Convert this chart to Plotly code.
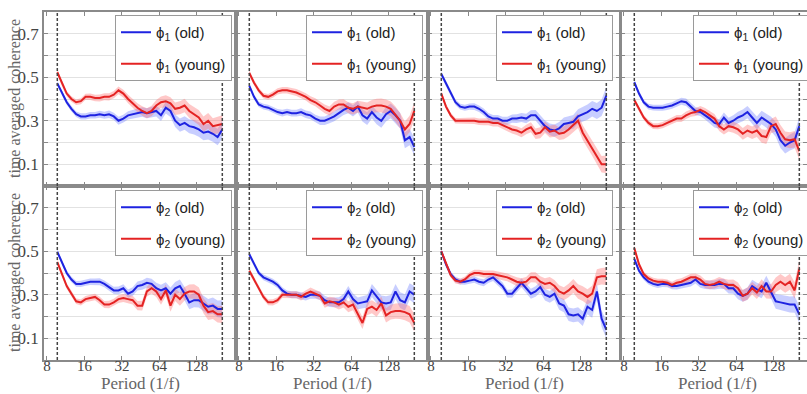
import math
import plotly.graph_objects as go
from plotly.subplots import make_subplots

# ---------------- data ----------------
PERIODS = [9.68, 10.56, 11.52, 12.57, 13.72, 14.96, 16.32, 17.81, 19.44, 21.2,
           23.1, 25.2, 27.5, 30.0, 32.8, 35.8, 39.0, 42.6, 46.5, 50.7,
           55.3, 60.3, 65.8, 71.9, 78.4, 85.5, 93.3, 101.8, 111.0, 121.2,
           132.2, 144.3, 157.4, 171.7, 187.4, 204.4]

ERR = [0.012, 0.012, 0.012, 0.013, 0.013, 0.014, 0.014, 0.015, 0.015, 0.016,
       0.016, 0.017, 0.017, 0.018, 0.018, 0.019, 0.020, 0.021, 0.022, 0.023,
       0.024, 0.025, 0.026, 0.027, 0.028, 0.029, 0.030, 0.031, 0.032, 0.033,
       0.034, 0.035, 0.036, 0.037, 0.038, 0.040]

PHI1_OLD_A = [.472, .43, .385, .355, .33, .32, .32, .325, .325, .33, .325, .33, .32, .30, .31, .325, .33, .335,
              .34, .335, .34, .345, .325, .36, .345, .30, .28, .29, .275, .27, .26, .245, .25, .24, .225, .26]
PHI1_YOUNG_A = [.523, .47, .425, .40, .385, .39, .41, .41, .405, .405, .41, .41, .42, .44, .425, .40, .38, .36,
                .345, .335, .345, .37, .385, .39, .38, .355, .36, .37, .345, .33, .315, .285, .30, .275, .28, .285]
PHI1_OLD_B = [.46, .41, .375, .365, .36, .35, .34, .335, .34, .335, .335, .34, .33, .325, .31, .30, .30, .31,
              .32, .335, .35, .36, .345, .365, .325, .31, .34, .315, .30, .33, .345, .325, .30, .21, .225, .18]
PHI1_YOUNG_B = [.52, .475, .44, .415, .41, .42, .435, .44, .44, .435, .43, .42, .41, .395, .385, .37, .355, .345,
                .365, .375, .375, .36, .355, .365, .36, .355, .365, .37, .37, .365, .355, .33, .30, .26, .285, .345]
PHI1_OLD_C = [.515, .47, .425, .385, .365, .36, .365, .365, .355, .34, .32, .31, .31, .30, .30, .31, .31, .315,
              .31, .325, .325, .30, .275, .26, .255, .265, .285, .29, .295, .32, .33, .34, .355, .345, .36, .415]
PHI1_YOUNG_C = [.425, .365, .325, .30, .30, .30, .30, .30, .295, .295, .295, .29, .29, .28, .27, .26, .255, .245,
                .26, .27, .24, .245, .27, .25, .255, .24, .245, .26, .28, .30, .245, .21, .175, .14, .10, .10]
PHI1_OLD_D = [.477, .425, .385, .365, .36, .36, .36, .365, .37, .38, .39, .385, .365, .345, .34, .325, .31, .29,
              .285, .315, .29, .30, .315, .325, .34, .315, .29, .315, .30, .285, .26, .21, .185, .20, .21, .275]
PHI1_YOUNG_D = [.395, .355, .315, .29, .275, .275, .28, .29, .30, .31, .31, .325, .335, .34, .35, .34, .325, .31,
                .275, .26, .275, .27, .26, .24, .255, .245, .255, .23, .225, .275, .285, .245, .215, .21, .215, .16]

PHI2_OLD_A = [.497, .45, .40, .37, .35, .35, .355, .36, .36, .36, .35, .335, .32, .32, .33, .305, .315, .34,
              .345, .355, .35, .33, .32, .33, .305, .33, .34, .305, .265, .275, .275, .26, .245, .25, .235, .235]
PHI2_YOUNG_A = [.45, .395, .34, .305, .27, .265, .28, .285, .29, .275, .255, .255, .265, .28, .285, .28, .275, .25,
                .25, .315, .33, .315, .28, .32, .25, .30, .28, .305, .315, .315, .30, .25, .22, .225, .21, .21]
PHI2_OLD_B = [.486, .44, .40, .38, .37, .36, .345, .32, .305, .30, .30, .295, .29, .30, .30, .295, .275, .265,
              .265, .265, .28, .315, .28, .26, .265, .27, .32, .29, .265, .26, .265, .315, .275, .265, .315, .30]
PHI2_YOUNG_B = [.41, .37, .33, .29, .265, .265, .275, .30, .30, .30, .30, .29, .305, .315, .305, .295, .26, .27,
                .265, .255, .265, .245, .255, .21, .17, .235, .245, .23, .26, .205, .22, .225, .225, .22, .21, .17]
PHI2_OLD_C = [.50, .44, .395, .37, .36, .36, .365, .37, .36, .355, .37, .38, .36, .34, .305, .305, .33, .355,
              .33, .305, .315, .335, .30, .29, .305, .26, .25, .21, .205, .21, .19, .245, .23, .315, .19, .14]
PHI2_YOUNG_C = [.50, .44, .39, .365, .36, .37, .39, .40, .40, .395, .395, .395, .39, .385, .38, .37, .36, .355,
                .36, .38, .38, .36, .35, .355, .34, .315, .305, .32, .34, .315, .305, .29, .305, .38, .385, .385]
PHI2_OLD_D = [.465, .41, .38, .36, .35, .345, .35, .35, .34, .34, .345, .35, .355, .37, .35, .345, .345, .345,
              .35, .35, .33, .33, .305, .295, .305, .34, .325, .315, .355, .315, .27, .265, .26, .255, .255, .21]
PHI2_YOUNG_D = [.515, .44, .395, .375, .365, .36, .36, .355, .345, .355, .36, .37, .38, .38, .37, .35, .345, .35,
                .36, .35, .345, .345, .33, .295, .305, .33, .31, .34, .315, .315, .345, .36, .345, .36, .32, .42]

PANEL_LETTERS = ["A", "B", "C", "D"]
ROW_SERIES = [
    [(PHI1_OLD_A, PHI1_YOUNG_A), (PHI1_OLD_B, PHI1_YOUNG_B), (PHI1_OLD_C, PHI1_YOUNG_C), (PHI1_OLD_D, PHI1_YOUNG_D)],
    [(PHI2_OLD_A, PHI2_YOUNG_A), (PHI2_OLD_B, PHI2_YOUNG_B), (PHI2_OLD_C, PHI2_YOUNG_C), (PHI2_OLD_D, PHI2_YOUNG_D)],
]
PHI_LABELS = ["1", "2"]
X_TICKS = [8, 16, 32, 64, 128]
X_TICK_TEXT = ["8", "16", "32", "64", "128"]
Y_TICKS = [0.1, 0.2, 0.3, 0.4, 0.5, 0.6, 0.7]
Y_TICK_TEXT = ["0.1", "", "0.3", "", "0.5", "", "0.7"]
DASH_PERIODS = [9.68, 204.4]

# ---------------- style / layout ----------------
W, H = 807, 394
ML, MT, MB = 44, 12, 34
PW = W - ML          # plot area width (right margin 0)
PH = H - MT - MB
COL_LEFT = [0, 192, 384, 577]
COL_W = 192
PX_PER_OCT = 37.5
X_LO = 7.57

OLD_COLOR = "rgb(30,35,225)"
YOUNG_COLOR = "rgb(228,35,35)"
OLD_BAND = "rgba(110,125,255,0.38)"
YOUNG_BAND = "rgba(255,110,110,0.38)"
SERIF = "Liberation Serif, Times New Roman, serif"
SANS = "Liberation Sans, Arial, sans-serif"

fig = make_subplots(rows=2, cols=4, horizontal_spacing=0, vertical_spacing=0)

for r in range(2):
    for c in range(4):
        old, young = ROW_SERIES[r][c]
        leg = "legend" if (r * 4 + c) == 0 else f"legend{r * 4 + c + 1}"
        for vals, color, band, who in ((old, OLD_COLOR, OLD_BAND, "old"),
                                       (young, YOUNG_COLOR, YOUNG_BAND, "young")):
            upper = [v + e for v, e in zip(vals, ERR)]
            lower = [v - e for v, e in zip(vals, ERR)]
            fig.add_trace(go.Scatter(
                x=PERIODS + PERIODS[::-1], y=upper + lower[::-1],
                fill="toself", fillcolor=band, line=dict(width=0),
                mode="lines", showlegend=False, hoverinfo="skip"),
                row=r + 1, col=c + 1)
        for vals, color, who in ((old, OLD_COLOR, "old"), (young, YOUNG_COLOR, "young")):
            fig.add_trace(go.Scatter(
                x=PERIODS, y=vals, mode="lines",
                line=dict(color=color, width=2),
                name=f"\u03d5<sub>{PHI_LABELS[r]}</sub> ({who})",
                legend=leg, legendgroup=f"{r}{c}{who}"),
                row=r + 1, col=c + 1)

        # axes
        width_px = COL_W if c < 3 else (PW - COL_LEFT[3])
        x_hi_log2 = math.log2(X_LO) + width_px / PX_PER_OCT
        dom = [COL_LEFT[c] / PW, min(1.0, (COL_LEFT[c] + width_px) / PW)]
        fig.update_xaxes(
            type="log", domain=dom,
            range=[math.log10(X_LO), x_hi_log2 * math.log10(2)],
            tickvals=X_TICKS, ticktext=X_TICK_TEXT,
            showticklabels=(r == 1), ticks="inside", ticklen=4, tickcolor="#888",
            ticklabelstandoff=-9,
            showgrid=False, zeroline=False,
            showline=True, mirror="ticks", linecolor="#8a8a8a", linewidth=1.5,
            tickfont=dict(family=SERIF, size=15, color="#444"),
            row=r + 1, col=c + 1)
        fig.update_yaxes(
            range=[0, 0.8], domain=[0.5, 1.0] if r == 0 else [0.0, 0.5],
            tickvals=Y_TICKS, ticktext=Y_TICK_TEXT,
            showticklabels=(c == 0), ticks="inside", ticklen=4, tickcolor="#888",
            showgrid=True, gridcolor="#e2e2e2", gridwidth=1, zeroline=False,
            showline=True, mirror="ticks", linecolor="#8a8a8a", linewidth=1.5,
            tickfont=dict(family=SERIF, size=17, color="#444"),
            row=r + 1, col=c + 1)

        # dashed cone-of-influence lines
        n = r * 4 + c + 1
        xref = "x" if n == 1 else f"x{n}"
        yref = "y domain" if n == 1 else f"y{n} domain"
        for p in DASH_PERIODS:
            fig.add_shape(type="line", xref=xref, yref=yref, x0=p, x1=p, y0=0, y1=1,
                          line=dict(color="#444", width=1.5, dash="3px,2px"))

# legends
LEG_RIGHT_PX = [232, 423, 613, 810]
LEG_TOP_PX = [15, 190]
legends = {}
for r in range(2):
    for c in range(4):
        key = "legend" if (r * 4 + c) == 0 else f"legend{r * 4 + c + 1}"
        legends[key] = dict(
            x=(LEG_RIGHT_PX[c] - ML) / PW, xanchor="right",
            y=1 - (LEG_TOP_PX[r] - MT) / PH, yanchor="top",
            bgcolor="white", bordercolor="#9a9a9a", borderwidth=1,
            font=dict(family=SANS, size=15, color="#222"),
            tracegroupgap=9, itemwidth=30)

annotations = []
for r, yc in enumerate([0.75, 0.25]):
    annotations.append(dict(text="time averaged coherence", x=(15 - ML) / PW, y=yc,
                            xref="paper", yref="paper", textangle=-90, showarrow=False,
                            xanchor="center", yanchor="middle",
                            font=dict(family=SERIF, size=16, color="#666")))
for c in range(4):
    xc = (COL_LEFT[c] + 96) / PW
    annotations.append(dict(text="Period (1/f)", x=xc, y=1 - (384 - MT) / PH,
                            xref="paper", yref="paper", showarrow=False,
                            xanchor="center", yanchor="middle",
                            font=dict(family=SERIF, size=17, color="#666")))
    annotations.append(dict(text=f"<b>{PANEL_LETTERS[c]}</b>", x=(COL_LEFT[c] + 90) / PW,
                            y=1 - (390 - MT) / PH, xref="paper", yref="paper",
                            showarrow=False, xanchor="center", yanchor="top",
                            font=dict(family=SANS, size=16, color="black")))

fig.update_layout(
    width=W, height=H,
    margin=dict(l=ML, r=0, t=MT, b=MB, autoexpand=False),
    paper_bgcolor="white", plot_bgcolor="white",
    annotations=annotations,
    **legends,
)

fig.write_html("out.html", config={"displayModeBar": False},
               post_script="document.body.style.margin='0';document.body.style.overflow='hidden';")
